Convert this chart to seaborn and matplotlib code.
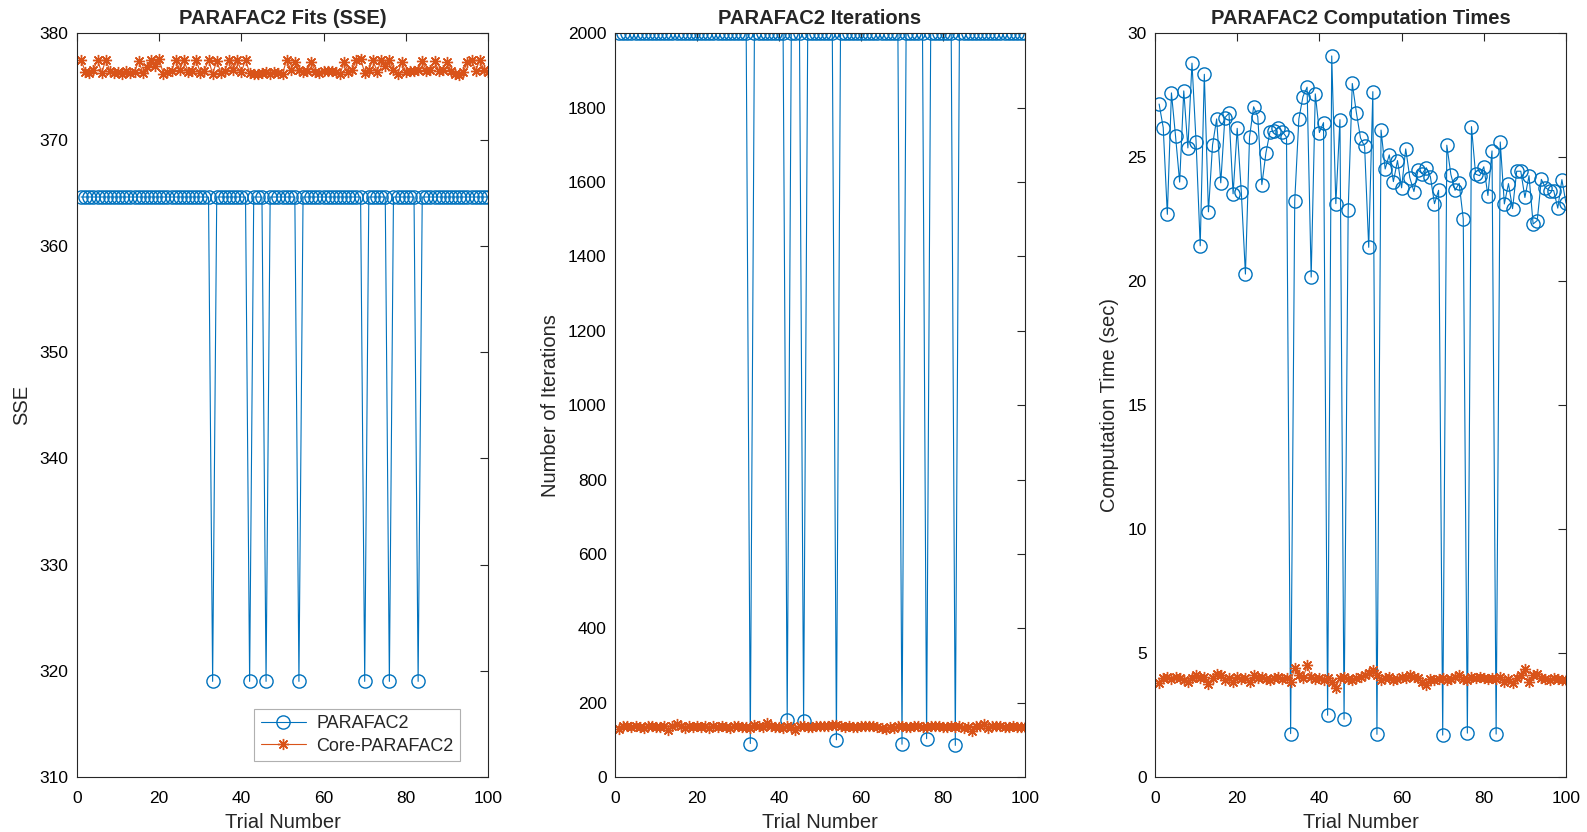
import matplotlib
matplotlib.use("Agg")
import matplotlib.pyplot as plt
import seaborn as sns
import pandas as pd
import numpy as np

trials = list(range(1, 101))

sse_parafac2 = [
    364.6, 364.6, 364.6, 364.6, 364.6, 364.6, 364.6, 364.6, 364.6, 364.6,
    364.6, 364.6, 364.6, 364.6, 364.6, 364.6, 364.6, 364.6, 364.6, 364.6,
    364.6, 364.6, 364.6, 364.6, 364.6, 364.6, 364.6, 364.6, 364.6, 364.6,
    364.6, 364.6, 319.0, 364.6, 364.6, 364.6, 364.6, 364.6, 364.6, 364.6,
    364.6, 319.0, 364.6, 364.6, 364.6, 319.0, 364.6, 364.6, 364.6, 364.6,
    364.6, 364.6, 364.6, 319.0, 364.6, 364.6, 364.6, 364.6, 364.6, 364.6,
    364.6, 364.6, 364.6, 364.6, 364.6, 364.6, 364.6, 364.6, 364.6, 319.0,
    364.6, 364.6, 364.6, 364.6, 364.6, 319.0, 364.6, 364.6, 364.6, 364.6,
    364.6, 364.6, 319.0, 364.6, 364.6, 364.6, 364.6, 364.6, 364.6, 364.6,
    364.6, 364.6, 364.6, 364.6, 364.6, 364.6, 364.6, 364.6, 364.6, 364.6,
]
sse_core = [
    377.5, 376.4, 376.3, 376.6, 377.5, 376.3, 377.5, 376.5, 376.3, 376.4,
    376.2, 376.5, 376.3, 376.4, 377.4, 376.3, 376.8, 377.5, 376.9, 377.6,
    376.2, 376.4, 376.5, 377.5, 376.6, 377.5, 376.4, 376.5, 377.5, 376.3,
    376.5, 377.5, 376.2, 377.4, 376.3, 376.5, 377.5, 376.6, 377.5, 376.4,
    377.5, 376.3, 376.2, 376.2, 376.3, 376.4, 376.2, 376.4, 376.3, 376.2,
    377.5, 376.6, 377.3, 376.6, 376.4, 376.5, 377.3, 376.4, 376.3, 376.5,
    376.5, 376.5, 376.4, 376.2, 377.3, 376.4, 376.6, 377.5, 377.6, 376.3,
    376.6, 377.5, 376.4, 377.5, 376.9, 377.5, 376.6, 376.2, 377.3, 376.4,
    376.5, 376.5, 376.6, 377.4, 376.5, 376.6, 377.4, 376.5, 376.6, 377.3,
    376.5, 376.2, 376.1, 376.4, 377.3, 377.5, 376.5, 377.5, 376.6, 376.4,
]

iter_parafac2 = [
    2000, 2000, 2000, 2000, 2000, 2000, 2000, 2000, 2000, 2000,
    2000, 2000, 2000, 2000, 2000, 2000, 2000, 2000, 2000, 2000,
    2000, 2000, 2000, 2000, 2000, 2000, 2000, 2000, 2000, 2000,
    2000, 2000, 90, 2000, 2000, 2000, 2000, 2000, 2000, 2000,
    2000, 153, 2000, 2000, 2000, 150, 2000, 2000, 2000, 2000,
    2000, 2000, 2000, 100, 2000, 2000, 2000, 2000, 2000, 2000,
    2000, 2000, 2000, 2000, 2000, 2000, 2000, 2000, 2000, 88,
    2000, 2000, 2000, 2000, 2000, 103, 2000, 2000, 2000, 2000,
    2000, 2000, 85, 2000, 2000, 2000, 2000, 2000, 2000, 2000,
    2000, 2000, 2000, 2000, 2000, 2000, 2000, 2000, 2000, 2000,
]
iter_core = [
    128, 136, 138, 134, 137, 135, 133, 136, 138, 135,
    134, 137, 127, 136, 143, 138, 133, 136, 134, 137,
    135, 136, 133, 137, 135, 136, 134, 133, 136, 137,
    135, 134, 132, 140, 137, 135, 146, 136, 134, 135,
    133, 137, 134, 126, 136, 137, 135, 134, 136, 138,
    136, 137, 139, 140, 136, 135, 137, 134, 135, 137,
    136, 137, 136, 134, 133, 128, 134, 133, 136, 137,
    134, 135, 137, 138, 134, 135, 137, 136, 137, 135,
    134, 136, 135, 137, 133, 135, 124, 136, 138, 143,
    133, 137, 138, 136, 134, 135, 136, 135, 134, 134,
]

time_parafac2 = [
    27.15, 26.20, 22.70, 27.60, 25.85, 24.00, 27.68, 25.38, 28.80, 25.60,
    21.43, 28.35, 22.80, 25.50, 26.55, 23.97, 26.60, 26.78, 23.53, 26.17,
    23.60, 20.29, 25.82, 27.04, 26.64, 23.90, 25.19, 26.04, 26.06, 26.20,
    26.04, 25.81, 1.75, 23.25, 26.55, 27.45, 27.83, 20.17, 27.56, 26.00,
    26.40, 2.49, 29.09, 23.13, 26.52, 2.33, 22.86, 27.98, 26.80, 25.78,
    25.44, 21.37, 27.65, 1.72, 26.10, 24.53, 25.10, 24.02, 24.87, 23.77,
    25.34, 24.18, 23.62, 24.49, 24.34, 24.58, 24.22, 23.13, 23.67, 1.69,
    25.49, 24.30, 23.67, 23.95, 22.52, 1.77, 26.24, 24.32, 24.26, 24.62,
    23.46, 25.26, 1.73, 25.62, 23.12, 23.94, 22.93, 24.44, 24.44, 23.38,
    24.26, 22.31, 22.45, 24.11, 23.78, 23.66, 23.66, 22.95, 24.10, 23.15,
]
time_core = [
    3.80, 4.00, 4.05, 3.95, 4.05, 4.00, 3.90, 3.85, 4.00, 4.10,
    4.00, 4.05, 3.75, 4.00, 4.15, 4.10, 3.90, 4.00, 3.85, 4.05,
    3.95, 4.00, 3.85, 4.10, 4.00, 4.05, 3.95, 3.90, 4.00, 4.05,
    3.95, 4.00, 3.85, 4.40, 4.10, 4.00, 4.50, 4.05, 3.95, 4.00,
    3.90, 4.00, 3.85, 3.60, 4.00, 4.05, 3.95, 3.90, 4.00, 4.05,
    4.10, 4.20, 4.30, 4.10, 3.90, 4.00, 4.05, 3.90, 3.95, 4.05,
    4.00, 4.10, 4.05, 4.00, 3.85, 3.70, 3.95, 3.90, 3.95, 4.00,
    3.90, 3.95, 4.05, 4.10, 3.95, 3.90, 4.05, 4.00, 4.05, 4.00,
    3.95, 4.00, 3.95, 4.05, 3.85, 3.95, 3.80, 4.00, 4.10, 4.35,
    3.85, 4.10, 4.15, 4.00, 3.95, 3.90, 4.00, 3.95, 3.90, 3.90,
]

series_names = ["PARAFAC2", "Core-PARAFAC2"]
titles = ["PARAFAC2 Fits (SSE)", "PARAFAC2 Iterations", "PARAFAC2 Computation Times"]
ylabels = ["SSE", "Number of Iterations", "Computation Time (sec)"]
xlabel = "Trial Number"

BLUE = "#0072BD"
ORANGE = "#D95319"
ASTERISK = (8, 2, 0)

sns.set_style("white")
plt.rcParams["font.family"] = ["Liberation Sans", "DejaVu Sans"]

fig = plt.figure(figsize=(15.87, 8.32), dpi=100)
W, H = 1587, 832
boxes = [(77, 488), (615, 1025), (1155, 1566)]
top_px, bot_px = 33.4, 777
axes = [fig.add_axes([l / W, 1 - bot_px / H, (r - l) / W, (bot_px - top_px) / H]) for l, r in boxes]

panels = [
    (sse_parafac2, sse_core, (310, 380), np.arange(310, 381, 10)),
    (iter_parafac2, iter_core, (0, 2000), np.arange(0, 2001, 200)),
    (time_parafac2, time_core, (0, 30), np.arange(0, 31, 5)),
]

for i, (ax, (blue_vals, orange_vals, ylim, yticks)) in enumerate(zip(axes, panels)):
    df_b = pd.DataFrame({"trial": trials, "value": blue_vals})
    df_o = pd.DataFrame({"trial": trials, "value": orange_vals})
    sns.lineplot(data=df_b, x="trial", y="value", ax=ax, color=BLUE, lw=0.8,
                 marker="o", markersize=9.5, markerfacecolor="none",
                 markeredgecolor=BLUE, markeredgewidth=1.0, estimator=None,
                 label=series_names[0], legend=False)
    sns.lineplot(data=df_o, x="trial", y="value", ax=ax, color=ORANGE, lw=0.8,
                 marker=ASTERISK, markersize=8, markerfacecolor=ORANGE,
                 markeredgecolor=ORANGE, markeredgewidth=1.0, estimator=None,
                 label=series_names[1], legend=False)
    ax.set_xlim(0, 100)
    ax.set_ylim(*ylim)
    ax.set_xticks(np.arange(0, 101, 20))
    ax.set_yticks(yticks)
    ax.set_title(titles[i], fontsize=14.5, fontweight="bold", pad=7)
    ax.set_xlabel(xlabel, fontsize=14.5, labelpad=5)
    ax.set_ylabel(ylabels[i], fontsize=14.5, labelpad=6)
    ax.tick_params(direction="in", length=6, width=0.8, top=True, right=True,
                   labelsize=12.5, colors="#262626", labelcolor="black", pad=6)
    ax.tick_params(axis="x", pad=10)
    for sp in ax.spines.values():
        sp.set_visible(True)
        sp.set_color("#262626")
        sp.set_linewidth(0.8)

leg = axes[0].legend(loc="lower right", bbox_to_anchor=(0.932, 0.0215), fontsize=13,
                     frameon=True, fancybox=False, framealpha=1, edgecolor="#b0b0b0",
                     handlelength=2.5, handletextpad=0.6, borderpad=0.35,
                     labelspacing=0.3, borderaxespad=0)
leg.get_frame().set_linewidth(0.8)

fig.savefig("out.png", dpi=100)
